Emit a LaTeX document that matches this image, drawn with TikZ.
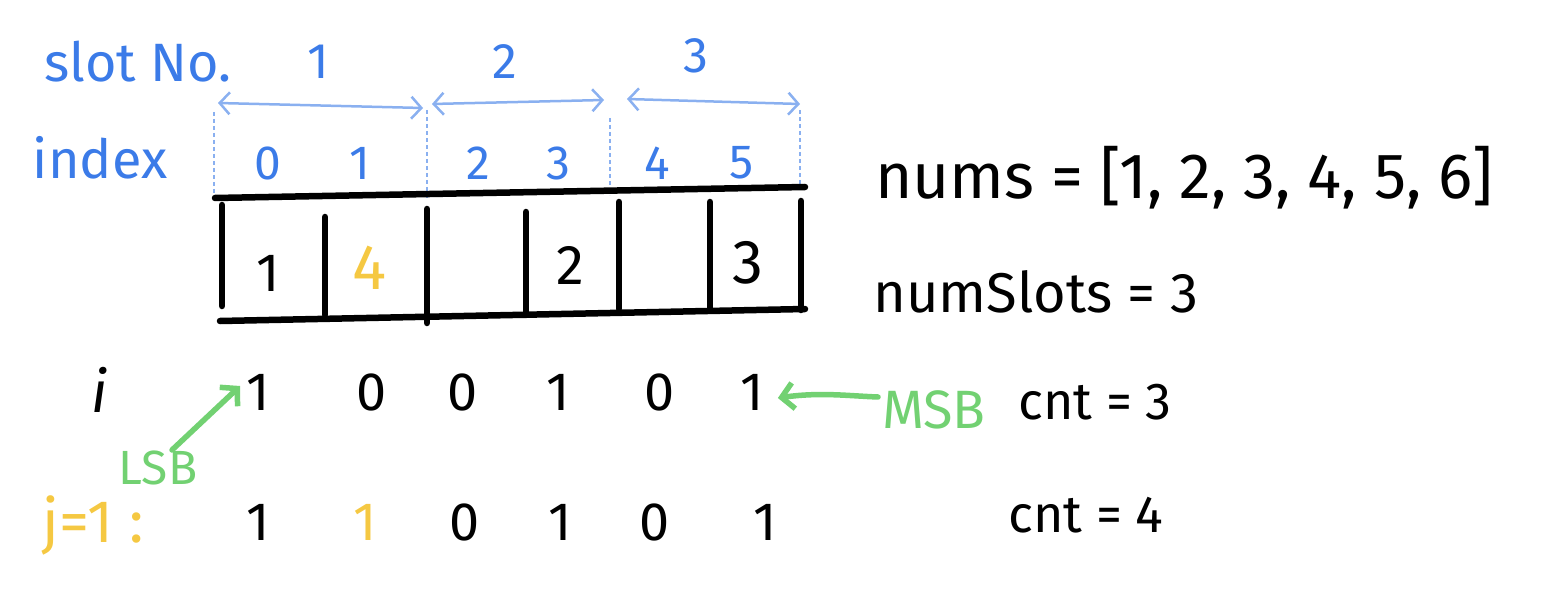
\documentclass[tikz,border=0pt]{standalone}
\usepackage{fontspec}
\setmainfont{Fira Sans}
\usetikzlibrary{arrows.meta}
\definecolor{hblue}{HTML}{3B7BE8}
\definecolor{lblue}{HTML}{8AB0F0}
\definecolor{hyellow}{HTML}{F5C842}
\definecolor{hgreen}{HTML}{72D172}
\tikzset{
  txt/.style={inner sep=0pt, anchor=center},
  bluetxt/.style={txt, text=hblue},
  blk/.style={txt, text=black},
  ylw/.style={txt, text=hyellow},
  grn/.style={txt, text=hgreen},
  slotarrow/.style={draw=lblue, line width=2.5pt, {Straight Barb[length=10pt,width=22pt]}-{Straight Barb[length=10pt,width=22pt]}},
  slotsep/.style={draw=lblue, line width=1.8pt, dash pattern=on 4pt off 3pt},
  cell/.style={draw=black, line width=6.5pt, line cap=round},
  greenarrow/.style={draw=hgreen, line width=5.5pt, line cap=round, -{Straight Barb[length=12pt,width=26pt]}},
}
\begin{document}
\begin{tikzpicture}[x=1pt,y=-1pt]
\useasboundingbox (0,0) rectangle (1542,596);
% top labels
\node[bluetxt, font=\fontsize{54}{56}\selectfont] (slotno) at (138,62) {slot No.};
\node[bluetxt, font=\fontsize{50}{52}\selectfont] (s1) at (318,62) {1};
\node[bluetxt, font=\fontsize{50}{52}\selectfont] (s2) at (505,62) {2};
\node[bluetxt, font=\fontsize{50}{52}\selectfont] (s3) at (696,56) {3};
% slot separators
\coordinate (b0t) at (214,112); \coordinate (b0b) at (214,197);
\coordinate (b1t) at (427,110); \coordinate (b1b) at (427,200);
\coordinate (b2t) at (610,118); \coordinate (b2b) at (610,195);
\coordinate (b3t) at (800,110); \coordinate (b3b) at (800,190);
\draw[slotsep] (b0t) -- (b0b);
\draw[slotsep] (b1t) -- (b1b);
\draw[slotsep] (b2t) -- (b2b);
\draw[slotsep] (b3t) -- (b3b);
% slot arrows
\coordinate (a1l) at (218,103); \coordinate (a1r) at (423,108);
\coordinate (a2l) at (432,104); \coordinate (a2r) at (604,100);
\coordinate (a3l) at (627,99); \coordinate (a3r) at (800,104);
\draw[slotarrow] (a1l) -- (a1r);
\draw[slotarrow] (a2l) -- (a2r);
\draw[slotarrow] (a3l) -- (a3r);
% index row
\node[bluetxt, font=\fontsize{54}{56}\selectfont] (index) at (100,158) {index};
\foreach \n/\x in {0/268,1/360,2/478,3/558,4/657,5/742}
  \node[bluetxt, font=\fontsize{48}{50}\selectfont] (idx\n) at (\x,163) {\n};
% array
\coordinate (tl) at (215,198); \coordinate (tr) at (805,187);
\coordinate (bl) at (220,321); \coordinate (br) at (805,309);
\draw[cell] (tl) -- (tr);
\draw[cell] (bl) -- (br);
\foreach \k/\x/\ya/\yb in {0/222/205/306,1/325/217/315,2/427/209/323,3/526/212/315,4/619/202/309,5/710/202/310,6/801/201/310}
  \draw[cell] (\x,\ya) -- (\x,\yb);
\node[blk, font=\fontsize{54}{56}\selectfont] (v0) at (268,273) {1};
\node[ylw, font=\fontsize{64}{66}\selectfont] (v1) at (370,268) {4};
\node[blk, font=\fontsize{56}{58}\selectfont] (v3) at (570,265) {2};
\node[blk, font=\fontsize{62}{64}\selectfont] (v5) at (748,263) {3};
% right side
\node[blk, font=\fontsize{64}{66}\selectfont, anchor=west] (nums) at (875,178) {nums = [1, 2, 3, 4, 5, 6]};
\node[blk, font=\fontsize{56}{58}\selectfont, anchor=west] (numslots) at (873,292) {numSlots = 3};
% i row
\node[blk, font=\fontsize{58}{60}\selectfont\itshape] (ilab) at (100,390) {i};
\foreach \n/\x/\b in {0/258/1,1/372/0,2/463/0,3/558/1,4/660/0,5/752/1}
  \node[blk, font=\fontsize{54}{56}\selectfont] (i\n) at (\x,392) {\b};
\node[grn, font=\fontsize{54}{56}\selectfont] (msb) at (934,410) {MSB};
\node[grn, font=\fontsize{48}{50}\selectfont] (lsb) at (158,468) {LSB};
\node[blk, font=\fontsize{52}{54}\selectfont, anchor=west] (cnt3) at (1018,402) {cnt = 3};
\coordinate (msbstart) at (878,397);
\coordinate (lsbstart) at (172,450);
\draw[greenarrow] (msbstart) .. controls (850,396) and (820,392) .. ([xshift=14pt,yshift=-6pt]i5.east);
\draw[greenarrow] (lsbstart) -- ([xshift=-6pt,yshift=6pt]i0.west);
% j row
\node[ylw, font=\fontsize{60}{62}\selectfont, anchor=west] (jlab) at (42,525) {j=1 :};
\foreach \n/\x in {0/258,1/365,2/465,3/560,4/655,5/765}
  \coordinate (j\n) at (\x,522);
\node[blk, font=\fontsize{54}{56}\selectfont] (jb0) at (j0) {1};
\node[ylw, font=\fontsize{54}{56}\selectfont] (jb1) at (j1) {1};
\node[blk, font=\fontsize{54}{56}\selectfont] (jb2) at (j2) {0};
\node[blk, font=\fontsize{54}{56}\selectfont] (jb3) at (j3) {1};
\node[blk, font=\fontsize{54}{56}\selectfont] (jb4) at (j4) {0};
\node[blk, font=\fontsize{54}{56}\selectfont] (jb5) at (j5) {1};
\node[blk, font=\fontsize{52}{54}\selectfont, anchor=west] (cnt4) at (1008,515) {cnt = 4};
\end{tikzpicture}
\end{document}
